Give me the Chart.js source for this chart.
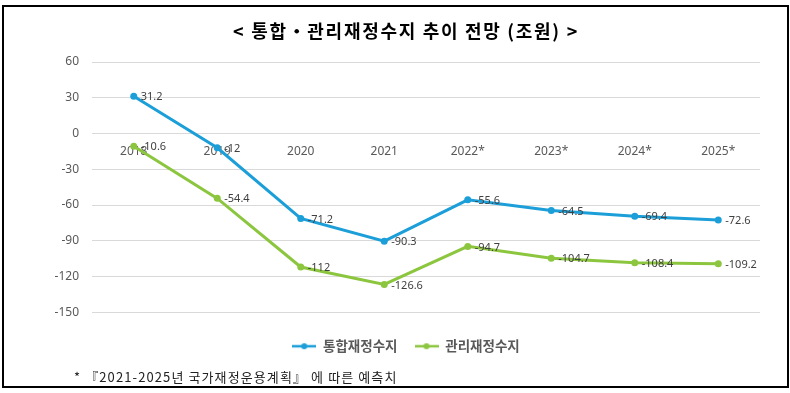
<!DOCTYPE html>
<html>
<head>
<meta charset="utf-8">
<script src="https://cdn.jsdelivr.net/npm/chart.js@4/dist/chart.umd.min.js"></script>
<style>
  html, body { margin:0; padding:0; background:#fff; }
  #wrap { position:relative; width:790px; height:393px; overflow:hidden; background:#fff; }
  #frame { position:absolute; left:2px; top:5px; width:787px; height:383px; box-sizing:border-box; border:2px solid #000; pointer-events:none; }
  #title { position:absolute; left:0; top:19px; width:812px; text-align:center; font-family:"Noto Sans CJK KR", sans-serif; font-weight:bold; font-size:18px; letter-spacing:1.7px; color:#000; line-height:22px; }
  #note { position:absolute; left:74px; top:368px; font-family:"Noto Sans CJK KR", sans-serif; font-size:13px; letter-spacing:1.1px; color:#222; line-height:18px; }
  canvas { position:absolute; left:0; top:0; }
</style>
</head>
<body>
<div id="wrap">
  <canvas id="c" width="790" height="393"></canvas>
  <div id="title">&lt; 통합・관리재정수지 추이 전망 (조원) &gt;</div>
  <div id="note">*&nbsp;『2021-2025년 국가재정운용계획』 에 따른 예측치</div>
  <div id="frame"></div>
</div>
<script>
// ---- data ----
const categories = ['2018', '2019', '2020', '2021', '2022*', '2023*', '2024*', '2025*'];
const integratedBalance = [31.2, -12, -71.2, -90.3, -55.6, -64.5, -69.4, -72.6];
const managedBalance = [-10.6, -54.4, -112, -126.6, -94.7, -104.7, -108.4, -109.2];
const seriesNames = ['통합재정수지', '관리재정수지'];
const yTicks = [60, 30, 0, -30, -60, -90, -120, -150];

const BLUE = '#1c9fd8';
const GREEN = '#8cc63f';

function legendIcon(color) {
  const c = document.createElement('canvas');
  c.width = 24; c.height = 8;
  const g = c.getContext('2d');
  g.strokeStyle = color; g.lineWidth = 2.5;
  g.beginPath(); g.moveTo(0, 4); g.lineTo(24, 4); g.stroke();
  g.fillStyle = color;
  g.beginPath(); g.arc(12, 4, 3, 0, Math.PI * 2); g.fill();
  return c;
}
const icons = [legendIcon(BLUE), legendIcon(GREEN)];

const dataLabels = {
  id: 'dataLabels',
  afterDatasetsDraw(chart) {
    const ctx = chart.ctx;
    ctx.save();
    ctx.font = '11px "Noto Sans", sans-serif';
    ctx.fillStyle = '#404040';
    ctx.textAlign = 'left';
    ctx.textBaseline = 'middle';
    chart.data.datasets.forEach((ds, i) => {
      const meta = chart.getDatasetMeta(i);
      meta.data.forEach((pt, j) => {
        ctx.fillText(String(ds.data[j]), pt.x + 7, pt.y + 1);
      });
    });
    ctx.restore();
  }
};

new Chart(document.getElementById('c'), {
  type: 'line',
  data: {
    labels: categories,
    datasets: [
      { label: seriesNames[0], data: integratedBalance, borderColor: BLUE, backgroundColor: BLUE,
        pointBackgroundColor: BLUE, pointBorderColor: BLUE, borderWidth: 3, pointRadius: 3.5, pointBorderWidth: 0, tension: 0 },
      { label: seriesNames[1], data: managedBalance, borderColor: GREEN, backgroundColor: GREEN,
        pointBackgroundColor: GREEN, pointBorderColor: GREEN, borderWidth: 3, pointRadius: 3.5, pointBorderWidth: 0, tension: 0 }
    ]
  },
  options: {
    responsive: false,
    animation: false,
    devicePixelRatio: 1,
    layout: { padding: { left: 52, right: 30, top: 62, bottom: 30 } },
    scales: {
      x: {
        type: 'category',
        position: { y: 0 },
        offset: true,
        grid: { display: false, drawTicks: true, tickLength: 8 },
        border: { display: false },
        ticks: { font: { family: '"Noto Sans", sans-serif', size: 12 }, color: '#595959', maxRotation: 0, autoSkip: false, padding: 3 }
      },
      y: {
        min: -150, max: 60,
        afterBuildTicks(scale) { scale.ticks = yTicks.map(v => ({ value: v })); },
        afterFit(scale) { scale.width = 40; },
        grid: { color: '#d9d9d9', lineWidth: 1, drawTicks: false },
        border: { display: false },
        ticks: { font: { family: '"Noto Sans", sans-serif', size: 12 }, color: '#595959', padding: 13 }
      }
    },
    plugins: {
      title: { display: false },
      tooltip: { enabled: false },
      legend: {
        position: 'bottom',
        title: { display: true, text: ' ', font: { size: 1 }, padding: { top: 0, bottom: 9 } },
        labels: {
          usePointStyle: true,
          pointStyleWidth: 24,
          padding: 17,
          color: '#595959',
          font: { family: '"Noto Sans CJK KR", sans-serif', size: 13.5, weight: 'bold' },
          generateLabels(chart) {
            return chart.data.datasets.map((ds, i) => ({
              text: ds.label, pointStyle: icons[i], fillStyle: ds.borderColor,
              strokeStyle: ds.borderColor, lineWidth: 0, hidden: false, datasetIndex: i, fontColor: '#595959'
            }));
          }
        }
      }
    }
  },
  plugins: [dataLabels]
});
</script>
</body>
</html>
